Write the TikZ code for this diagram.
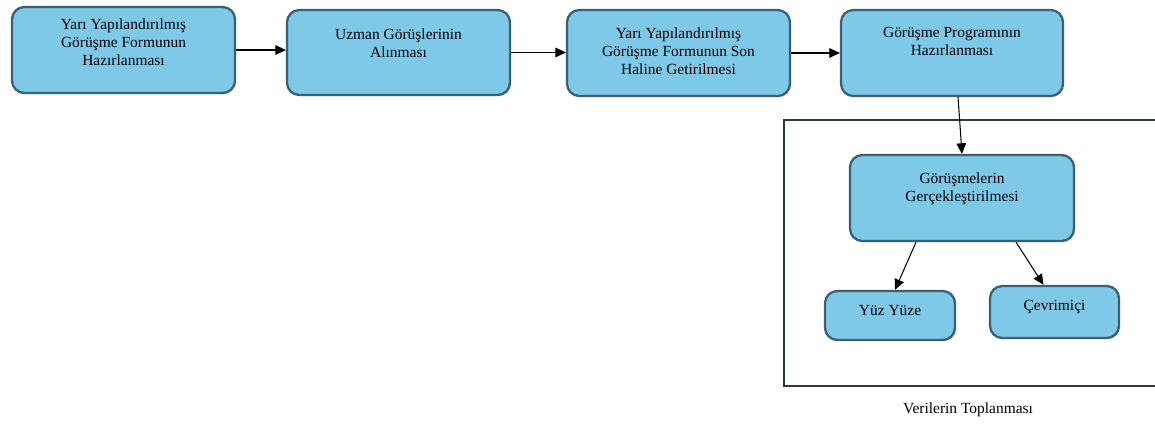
\documentclass[tikz,border=0pt]{standalone}
\usepackage{fontspec}
\setmainfont{Liberation Serif}
\usetikzlibrary{arrows.meta,shadows}
\definecolor{boxBlue}{RGB}{126, 200, 232}
\definecolor{boxEdge}{RGB}{58, 96, 118}
\definecolor{frameGray}{RGB}{40, 60, 70}
% metni kutu icinde yukari kaydir
\newcommand{\lifted}[2]{\raisebox{#1}[\height][\depth]{\begin{tabular}{@{}c@{}}#2\end{tabular}}}

\tikzset{
    stage/.style={draw=boxEdge, line width=1.3pt, fill=boxBlue, rounded corners=7pt,
        font=\fontsize{8.8}{10.2}\selectfont, inner sep=2pt,
        drop shadow={shadow xshift=0.6pt, shadow yshift=-0.6pt, opacity=0.35}},
    flow/.style={-{Triangle[length=6pt,width=5.5pt]}, line width=0.6pt}
}

\begin{document}
\begin{tikzpicture}[x=0.02cm, y=-0.02cm]
    \useasboundingbox (0,0) rectangle (1155,426);

    % ana adimlar
    \node[stage, minimum width=223*0.02cm, minimum height=86*0.02cm] (b1) at (123.5,50)
        {\lifted{3.4pt}{Yarı Yapılandırılmış\\Görüşme Formunun\\Hazırlanması}};
    \node[stage, minimum width=223*0.02cm, minimum height=85*0.02cm] (b2) at (398.5,52.5)
        {\lifted{4.5pt}{Uzman Görüşlerinin\\Alınması}};
    \node[stage, minimum width=223*0.02cm, minimum height=86*0.02cm] (b3) at (678.5,53)
        {\lifted{0pt}{Yarı Yapılandırılmış\\Görüşme Formunun Son\\Haline Getirilmesi}};
    \node[stage, minimum width=222*0.02cm, minimum height=86*0.02cm] (b4) at (952,53)
        {\lifted{5.7pt}{Görüşme Programının\\Hazırlanması}};

    % verilerin toplanmasi
    \draw[frameGray, line width=0.8pt] (1160,120) -| (784,386) -- (1160,386);
    \node[font=\fontsize{8.8}{10.2}\selectfont] (flabel) at (968,410) {Verilerin Toplanması};

    \node[stage, minimum width=224*0.02cm, minimum height=86*0.02cm] (b5) at (962,198)
        {\lifted{5pt}{Görüşmelerin\\Gerçekleştirilmesi}};
    \node[stage, minimum width=130*0.02cm, minimum height=49*0.02cm] (yuz) at (890,315.5)
        {\lifted{2pt}{Yüz Yüze}};
    \node[stage, minimum width=129*0.02cm, minimum height=52*0.02cm] (cev) at (1054.5,312)
        {\lifted{2.8pt}{Çevrimiçi}};

    % oklar
    \draw[flow] (b1.east) -- (b2.west |- b1.east);
    \draw[flow] (b2.east) -- (b3.west |- b2.east);
    \draw[flow] (b3.east) -- (b4.west |- b3.east);
    \draw[flow] ([xshift=6*0.02cm]b4.south) -- ([xshift=0*0.02cm]b5.north);
    \draw[flow] ([xshift=-46*0.02cm]b5.south) -- ([xshift=5*0.02cm]yuz.north);
    \draw[flow] ([xshift=54*0.02cm]b5.south) -- ([xshift=-11*0.02cm]cev.north);
\end{tikzpicture}
\end{document}
